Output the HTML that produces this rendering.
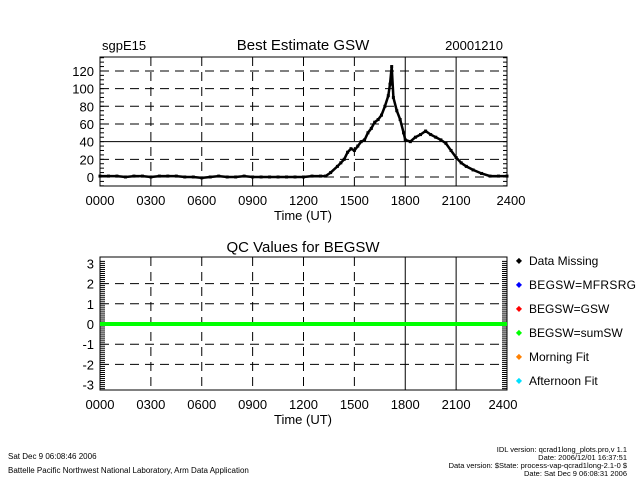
<!DOCTYPE html>
<html><head><meta charset="utf-8"><style>
html,body{margin:0;padding:0;background:#fff;}
svg text{font-family:"Liberation Sans",sans-serif;fill:#000;}
</style></head><body>
<svg id="chart" width="640" height="480" xmlns="http://www.w3.org/2000/svg">
<rect width="640" height="480" fill="#fff"/>
<g id="top"></g>
<g id="bot"></g>
<text x="102" y="50" font-size="13">sgpE15</text>
<text x="303" y="50" font-size="15" text-anchor="middle">Best Estimate GSW</text>
<text x="503" y="50" font-size="13" text-anchor="end">20001210</text>
<text x="303" y="252" font-size="15" text-anchor="middle">QC Values for BEGSW</text>
<text x="8" y="459" font-size="8">Sat Dec  9 06:08:46 2006</text>
<text x="8" y="473" font-size="8">Battelle Pacific Northwest National Laboratory, Arm Data Application</text>
<text x="627" y="452" font-size="7.5" text-anchor="end">IDL version: qcrad1long_plots.pro,v 1.1</text>
<text x="627" y="460" font-size="7.5" text-anchor="end">Date: 2006/12/01 16:37:51</text>
<text x="627" y="468" font-size="7.5" text-anchor="end">Data version: $State: process-vap-qcrad1long-2.1-0 $</text>
<text x="627" y="476" font-size="7.5" text-anchor="end">Date: Sat Dec  9 06:08:31 2006</text>
</svg>
<script>
const hours=[0,0.5,1,1.5,2,2.5,3,3.5,4,4.5,5,5.5,6,6.5,7,7.5,8,8.5,9,9.5,10,10.5,11,11.5,12,12.5,13,13.3,13.6,14.0,14.2,14.4,14.6,14.8,15.0,15.2,15.4,15.6,15.8,16.0,16.2,16.4,16.6,16.8,17.0,17.1,17.2,17.3,17.5,17.7,17.9,18.0,18.3,18.6,18.9,19.2,19.5,19.8,20.1,20.4,20.7,21.0,21.3,21.6,22.0,22.5,23.0,23.5,24];
const gsw=[1,1,1,0,1,1,0,1,1,1,0,0,-1,0,1,0,0,1,0,0,0,0,0,0,0,1,1,1,5,12,16,20,28,32,30,35,40,42,50,55,62,65,70,80,92,105,125,90,75,65,50,42,40,45,48,52,48,45,42,38,30,22,16,12,8,4,1,1,1];
const topTicks=[0,20,40,60,80,100,120];
const qcTicks=[-3,-2,-1,0,1,2,3];
const xTickLabels=["0000","0300","0600","0900","1200","1500","1800","2100","2400"];
const qcValues=[0,0];
const legendNames=["Data Missing","BEGSW=MFRSRG","BEGSW=GSW","BEGSW=sumSW","Morning Fit","Afternoon Fit"];
const legendColors=["#000","#0000ff","#ff0000","#00ff00","#ff8000","#00e0ff"];

const NS="http://www.w3.org/2000/svg";
function mk(p,t,a){const e=document.createElementNS(NS,t);for(const k in a)e.setAttribute(k,a[k]);p.appendChild(e);return e;}
const X0=100,X1=507;
const xs=h=>X0+(X1-X0)*h/24;
const ty=v=>186-(v+10.2)*(129/146);
const qy=v=>324-v*20.2;

function axes(g,top,bot,yfn,ticks,solidY,solidX,minorStep,yMin,yMax,tl){
  for(let i=1;i<8;i++){const x=xs(i*3);
    const l=mk(g,'line',{x1:x,x2:x,y1:top,y2:bot,stroke:'#000','stroke-width':1,'stroke-dasharray':solidX.includes(i)?'none':'9,6'});
    }
  ticks.forEach(v=>{const y=yfn(v);
    if(v>yMin&&v<yMax&&!(g.id==='bot'&&(v===3||v===-3||v===0))){
      const l=mk(g,'line',{x1:X0,x2:X1,y1:y,y2:y,stroke:'#000','stroke-width':1,'stroke-dasharray':solidY.includes(v)?'none':'9,6'});
      }
    const t=mk(g,'text',{x:X0-6,y:y+5,'font-size':13,'text-anchor':'end'});t.textContent=v;
    });
  for(let v=Math.ceil(yMin/minorStep)*minorStep;v<=yMax;v+=minorStep){const y=yfn(v);
    mk(g,'line',{x1:X0,x2:X0+tl,y1:y,y2:y,stroke:'#000'});mk(g,'line',{x1:X1-tl,x2:X1,y1:y,y2:y,stroke:'#000'});}
  const b=mk(g,'rect',{x:X0,y:top,width:X1-X0,height:bot-top,fill:'none',stroke:'#000','stroke-width':1});
  
  xTickLabels.forEach((s,i)=>{const t=mk(g,'text',{x:xs(i*3)+(i===8?(g.id==='top'?4:-4):0),y:bot+19,'font-size':13,'text-anchor':'middle'});t.textContent=s;
    });
  const xt=mk(g,'text',{x:303,y:bot+34,'font-size':13,'text-anchor':'middle'});xt.textContent='Time (UT)';
  
}
const gt=document.getElementById('top'),gb=document.getElementById('bot');
axes(gt,57,186,ty,topTicks,[40],[6,7],5,-10,135,4);
axes(gb,257,390,qy,qcTicks,[],[6,7],0.1,-3.2,3.2,5);

let d='';hours.forEach((h,i)=>{d+=(i?'L':'M')+xs(h).toFixed(1)+','+ty(gsw[i]).toFixed(1);});
const ln=mk(gt,'path',{d:d,fill:'none',stroke:'#000','stroke-width':2.5});

hours.forEach((h,i)=>{const r=mk(gt,'rect',{x:xs(h)-1.5,y:ty(gsw[i])-1.5,width:3,height:3,fill:'#000'});
  });

const q=mk(gb,'line',{x1:X0,x2:X1,y1:qy(qcValues[0]),y2:qy(qcValues[1]),stroke:'#00ff00','stroke-width':4});


legendNames.forEach((n,i)=>{const y=260+i*24;
  const m=mk(gb,'text',{x:519,y:y+3,'font-size':8,'text-anchor':'middle',style:'fill:'+legendColors[i]});m.textContent='◆';
  
  const t=mk(gb,'text',{x:529,y:y+5,'font-size':12,textLength:n==='BEGSW=MFRSRG'?107:null});
  if(n!=='BEGSW=MFRSRG')t.removeAttribute('textLength');
  t.textContent=n;
  });
</script>
</body></html>
